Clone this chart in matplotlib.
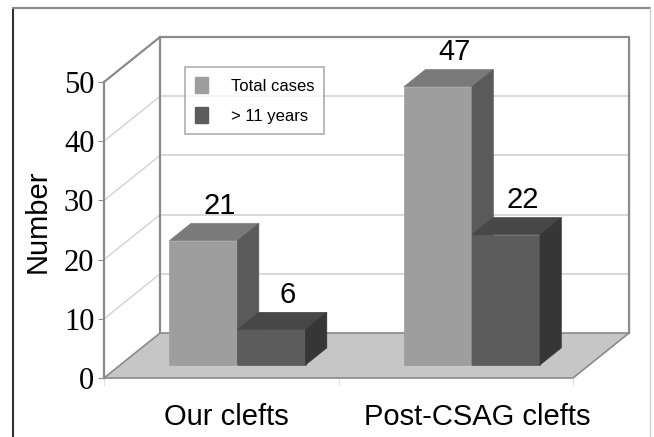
import matplotlib
matplotlib.use("Agg")
import matplotlib.pyplot as plt
from matplotlib.patches import Polygon
import numpy as np

# data
categories = ["Our clefts", "Post-CSAG clefts"]
series_names = ["Total cases", "> 11 years"]
total_cases = [21, 47]
over_11 = [6, 22]
y_ticks = [0, 10, 20, 30, 40, 50]

# style
front_cols = ["#9e9e9e", "#5c5c5c"]
top_cols = ["#7a7a7a", "#474747"]
side_cols = ["#5a5a5a", "#363636"]
wall_col = "#8a8a8a"
grid_col = "#d2d2d2"
floor_col = "#c6c6c6"

DX, DY = 0.239, 7.6          # depth offset of the back wall in data units
Z0, Z1 = 0.29, 0.67          # depth of the bars
BW = 0.29                    # bar width


def proj(x, y, z):
    return (x + z * DX, y + z * DY)


def face(ax, pts, color, zorder):
    p = Polygon([proj(*q) for q in pts], closed=True, facecolor=color,
                edgecolor=color, lw=0.5, clip_on=False, zorder=zorder)
    ax.add_patch(p)


fig = plt.figure(figsize=(6.54, 4.37), dpi=100)
ax = fig.add_axes([104 / 654, 59 / 437, 469 / 654, 296 / 437])
ax.set_xlim(0, 2)
ax.set_ylim(0, 50)
ax.patch.set_visible(False)

# outer frame
fig.add_artist(plt.Line2D([13 / 654, 13 / 654], [0, 1 - 8 / 437], color="#333333", lw=1.5))
fig.add_artist(plt.Line2D([13 / 654, 650 / 654], [1 - 8 / 437, 1 - 8 / 437], color="#8a8a8a", lw=1.5))
fig.add_artist(plt.Line2D([650 / 654, 650 / 654], [0, 1 - 8 / 437], color="#cfcfcf", lw=1))

# walls and grid
for v in y_ticks[1:-1]:
    ax.plot(*zip(proj(0, v, 0), proj(0, v, 1)), color=grid_col, lw=1, clip_on=False, zorder=1)
    ax.plot(*zip(proj(0, v, 1), proj(2, v, 1)), color=grid_col, lw=1.2, clip_on=False, zorder=1)
ax.plot(*zip(proj(0, 50, 0), proj(0, 50, 1), proj(2, 50, 1), proj(2, 0, 1)),
        color=wall_col, lw=1.6, clip_on=False, zorder=2)
ax.plot(*zip(proj(0, 0, 1), proj(0, 50, 1)), color=wall_col, lw=1.6, clip_on=False, zorder=2)

# floor
floor = Polygon([proj(0, 0, 0), proj(2, 0, 0), proj(2, 0, 1), proj(0, 0, 1)], closed=True,
                facecolor=floor_col, edgecolor=wall_col, lw=1.2, clip_on=False, zorder=3)
ax.add_patch(floor)

# bars
for i in range(len(categories)):
    for j, vals in enumerate([total_cases, over_11]):
        h = vals[i]
        x0 = i + 0.5 - BW + j * BW
        x1 = x0 + BW
        z = 5 + i * 2 + j
        face(ax, [(x0, 0, Z0), (x1, 0, Z0), (x1, h, Z0), (x0, h, Z0)], front_cols[j], z)
        face(ax, [(x0, h, Z0), (x1, h, Z0), (x1, h, Z1), (x0, h, Z1)], top_cols[j], z)
        face(ax, [(x1, 0, Z0), (x1, 0, Z1), (x1, h, Z1), (x1, h, Z0)], side_cols[j], z)
        tx, ty = proj((x0 + x1) / 2, h, Z1)
        ax.text(tx - 0.02, ty + 3.0, str(h), ha="center", va="center", fontsize=21,
                family="Liberation Sans", zorder=20)

# axes
for s in ["top", "right"]:
    ax.spines[s].set_visible(False)
ax.spines["left"].set_color(wall_col)
ax.spines["left"].set_linewidth(1.6)
ax.spines["left"].set_zorder(4)
ax.spines["bottom"].set_visible(False)
ax.set_yticks(y_ticks)
ax.set_yticklabels([str(v) for v in y_ticks], fontsize=22, family="Liberation Serif")
ax.tick_params(axis="y", length=4, color=wall_col, pad=3)
ax.set_xticks([0, 1, 2])
ax.set_xticklabels([])
ax.tick_params(axis="x", length=5, color="#dddddd", direction="out")
ax.set_xticks([0.52, 1.59], minor=True)
ax.set_xticklabels(categories, minor=True, fontsize=21, family="Liberation Sans")
ax.tick_params(axis="x", which="minor", length=0, pad=18)
ax.set_ylabel("Number", fontsize=21, family="Liberation Sans")
ax.yaxis.set_label_coords(-0.111, 0.53)

# legend
handles = [plt.Rectangle((0, 0), 1, 1, facecolor=c, edgecolor=c) for c in front_cols]
leg = ax.legend(handles, series_names, loc="upper left", bbox_to_anchor=(81 / 469, 1 + 15 / 296),
                prop={"family": "Liberation Sans", "size": 12}, frameon=True, fancybox=False,
                handlelength=0.75, handleheight=1.1, handletextpad=1.4, labelspacing=0.8,
                borderpad=0.6, borderaxespad=0)
leg.get_frame().set_edgecolor("#999999")
leg.get_frame().set_linewidth(1.2)
leg.set_zorder(30)

fig.savefig("out.png", dpi=100)
